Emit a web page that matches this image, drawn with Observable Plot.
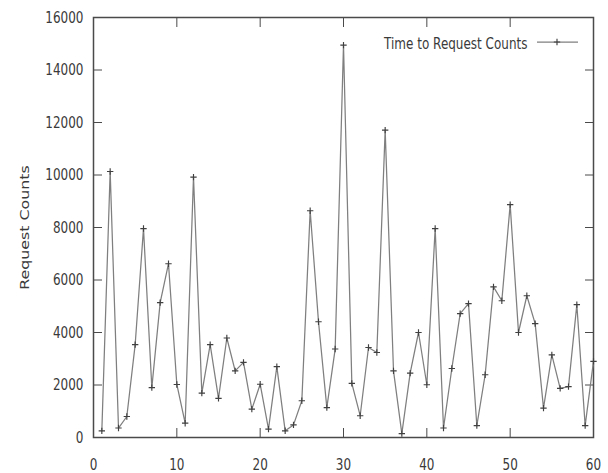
<!DOCTYPE html>
<html>
<head>
<meta charset="utf-8">
<script src="https://cdn.jsdelivr.net/npm/d3@7"></script>
<script src="https://cdn.jsdelivr.net/npm/@observablehq/plot@0.6"></script>
<style>
  html, body { margin: 0; padding: 0; background: #fff; }
  #chart { width: 608px; height: 473px; }
</style>
</head>
<body>
<div id="chart"></div>
<script>
const times = d3.range(1, 61);
const requestCounts = [
  250, 10135, 360, 800, 3540, 7960, 1900, 5140, 6620, 2020,
  545, 9920, 1690, 3540, 1490, 3790, 2540, 2860, 1080, 2030,
  320, 2700, 255, 480, 1400, 8640, 4410, 1140, 3370, 14950,
  2060, 830, 3430, 3240, 11710, 2540, 150, 2450, 4000, 2010,
  7960, 360, 2630, 4720, 5100, 450, 2390, 5740, 5210, 8870,
  4000, 5400, 4340, 1120, 3150, 1870, 1940, 5060, 450, 2900
];
const xTicks = [0, 10, 20, 30, 40, 50, 60];
const yTicks = [0, 2000, 4000, 6000, 8000, 10000, 12000, 14000, 16000];
const seriesName = "Time to Request Counts";
const yLabel = "Request Counts";

const data = times.map((t, i) => ({time: t, count: requestCounts[i]}));

const lineColor = "#7f7f7f";
const markColor = "#404040";
const frameColor = "#4a4a4a";
const textColor = "#3a3a3a";
const blank = () => "";
const fmt = d3.format("d");

const chart = Plot.plot({
  width: 608,
  height: 473,
  marginLeft: 93,
  marginRight: 15,
  marginTop: 17,
  marginBottom: 36,
  style: {fontFamily: "DejaVu Sans", fontSize: "12px", color: textColor, background: "#fff"},
  x: {domain: [0, 60]},
  y: {domain: [0, 16000]},
  marks: [
    Plot.frame({stroke: frameColor, strokeWidth: 1.5}),
    Plot.axisX({anchor: "bottom", ticks: xTicks, tickFormat: fmt, tickSize: 0, tickPadding: 23, label: null, fill: textColor}),
    Plot.axisX({anchor: "bottom", ticks: xTicks, tickSize: -9, tickFormat: blank, label: null, stroke: frameColor}),
    Plot.axisX({anchor: "top", ticks: xTicks, tickSize: -9, tickFormat: blank, label: null, stroke: frameColor}),
    Plot.axisY({anchor: "left", ticks: yTicks, tickFormat: fmt, tickSize: 0, tickPadding: 10, fill: textColor,
      label: yLabel, labelAnchor: "center", labelOffset: 73, labelArrow: "none"}),
    Plot.axisY({anchor: "left", ticks: yTicks, tickSize: -9, tickFormat: blank, label: null, stroke: frameColor}),
    Plot.axisY({anchor: "right", ticks: yTicks, tickSize: -9, tickFormat: blank, label: null, stroke: frameColor}),
    Plot.line(data, {x: "time", y: "count", stroke: lineColor, strokeWidth: 1.25}),
    Plot.dot(data, {x: "time", y: "count", symbol: "plus", r: 2.2, stroke: markColor, strokeWidth: 1.15}),
    Plot.text([seriesName], {frameAnchor: "top-right", text: d => d, textAnchor: "end", dx: -66, dy: 22, fill: textColor, fontSize: 12})
  ]
});

document.getElementById("chart").appendChild(chart);

// The reference picture is vertically stretched: stretch glyphs the same way, about each text's centre.
const stretch = 1.32;
d3.select(chart).selectAll("text").each(function() {
  if (!this.textContent.trim()) return;
  const b = this.getBBox();
  const t = this.getAttribute("transform") || "";
  const rotated = /rotate\(\s*-?90/.test(t);
  if (rotated) {
    const cx = b.x + b.width / 2;
    this.setAttribute("transform", `${t} translate(${cx},0) scale(${stretch},1) translate(${-cx},0)`);
  } else {
    const cy = b.y + b.height / 2;
    this.setAttribute("transform", `${t} translate(0,${cy}) scale(1,${stretch}) translate(0,${-cy})`);
  }
});

// legend sample (line with plus marker), next to the legend text
const g = d3.select(chart).append("g").attr("transform", "translate(557,42)");
g.append("line").attr("x1", -20).attr("x2", 21).attr("y1", 0).attr("y2", 0)
  .attr("stroke", lineColor).attr("stroke-width", 1.25);
g.append("path").attr("d", d3.symbol(d3.symbolPlus, 2.2 * 2.2 * Math.PI)())
  .attr("fill", "none").attr("stroke", markColor).attr("stroke-width", 1.15);
</script>
</body>
</html>
